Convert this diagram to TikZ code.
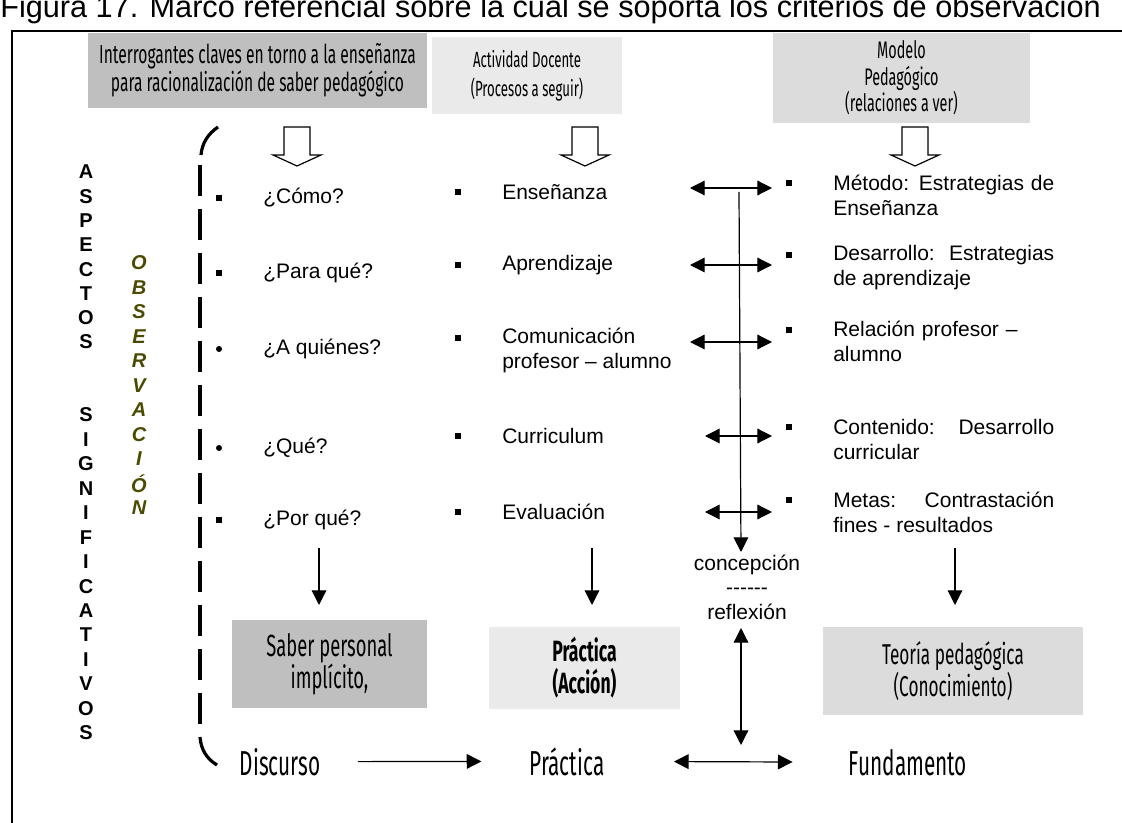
\documentclass[tikz,border=0pt]{standalone}
\usepackage{fontspec}
\setmainfont{Liberation Sans}
\newfontfamily\agency[FakeStretch=0.6]{Fira Sans}
\usepackage{xcolor}
\usetikzlibrary{arrows.meta,positioning}
\definecolor{boxdark}{HTML}{BFBFBF}
\definecolor{boxlight}{HTML}{EAEAEA}
\definecolor{boxmid}{HTML}{DCDCDC}
\definecolor{obsolive}{HTML}{4A4A00}
\hyphenpenalty=10000

\begin{document}
\begin{tikzpicture}[x=0.75pt, y=-0.75pt,
    txt/.style={font=\fontsize{15.75pt}{18.75pt}\selectfont, inner sep=0pt},
    head/.style={rectangle, inner sep=0pt, align=center, font=\agency\fontsize{19.5pt}{21pt}\selectfont},
    word/.style={inner sep=0pt, anchor=base, font=\agency\fontsize{26pt}{28pt}\selectfont},
    sq/.style={rectangle, fill=black, minimum size=4.5pt, inner sep=0pt},
    dot/.style={circle, fill=black, minimum size=4.5pt, inner sep=0pt},
    arr/.style={-{Triangle[length=11pt,width=11pt]}, line width=0.9pt},
    dbl/.style={{Triangle[length=11pt,width=11pt]}-{Triangle[length=11pt,width=11pt]}, line width=0.9pt},
    hollow/.style={draw, line width=0.9pt, fill=white},
    letter/.style={inner sep=0pt, font=\fontsize{15pt}{15pt}\selectfont\bfseries}]

  \useasboundingbox (0,0) rectangle (1122,823);

  % frame and title
  \node[anchor=base west, inner sep=0pt, font=\fontsize{23pt}{25pt}\selectfont] (title) at (0,18)
    {Figura 17. Marco referencial sobre la cual se soporta los criterios de observación};
  \draw[line width=1.4pt] (12,823) -- (12,31) -- (1122,31);

  % header boxes
  \node[head, fill=boxdark, minimum width=254.25pt, minimum height=56.25pt] (H1) at (257.5,70.5)
    {Interrogantes claves en torno a la enseñanza\\para racionalización de saber pedagógico};
  \node[head, fill=boxlight, minimum width=142.5pt, minimum height=57.75pt, font=\agency\fontsize{16.5pt}{22pt}\selectfont] (H2) at (527,76)
    {Actividad Docente\\(Procesos a seguir)};
  \node[head, fill=boxmid, minimum width=192.75pt, minimum height=67.5pt, font=\agency\fontsize{18pt}{20pt}\selectfont] (H3) at (901.5,78)
    {Modelo\\Pedagógico\\(relaciones a ver)};

  \foreach \ax in {297,585,915}
    \draw[hollow] (\ax-13,127) -- (\ax+13,127) -- (\ax+13,155) -- (\ax+24,155)
      -- (\ax,166) -- (\ax-24,155) -- (\ax-13,155) -- cycle;

  % side letters
  \foreach \l [count=\i] in {A,S,P,E,C,T,O,S}
    \node[letter] at (86,172+24.3*\i-24.3) {\l};
  \foreach \l [count=\i] in {S,I,G,N,I,F,I,C,A,T,I,V,O,S}
    \node[letter] at (86,415+24.45*\i-24.45) {\l};
  \foreach \l [count=\i] in {O,B,S,E,R,V,A,C,I,Ó,N}
    \node[letter, text=obsolive, font=\fontsize{15pt}{15pt}\selectfont\bfseries\itshape] at (139,263+24.5*\i-24.5) {\l};

  % bracket
  \draw[line width=2.4pt] (218,127) .. controls (208,134) and (202,143) .. (201,155);
  \draw[line width=2.4pt, dash pattern=on 23.25pt off 9.75pt] (200,165) -- (200,726);
  \draw[line width=2.4pt] (200,737) .. controls (201,750) and (207,759) .. (217,765);

  % questions
  \foreach \y/\b/\t [count=\i] in {198/sq/{¿Cómo?}, 273/sq/{¿Para qué?}, 349/dot/{¿A quiénes?},
      448/dot/{¿Qué?}, 520/sq/{¿Por qué?}} {
    \node[\b] at (219,\y) {};
    \node[txt, anchor=west] (Q\i) at (263,\y) {\t};
  }

  % teaching activity
  \foreach \y in {192,265,338,436,512}
    \node[sq] at (458,\y) {};
  \node[txt, anchor=west] (A1) at (502,192) {Enseñanza};
  \node[txt, anchor=west] (A2) at (502,265) {Aprendizaje};
  \node[txt, anchor=west, align=left] (A3) at (502,350.5) {Comunicación\\profesor – alumno};
  \node[txt, anchor=west] (A4) at (502,436) {Curriculum};
  \node[txt, anchor=west] (A5) at (502,512) {Evaluación};

  % pedagogical model
  \foreach \y in {183,255,330,427,500}
    \node[sq] at (789,\y) {};
  \node[txt, anchor=west, text width=165.75pt, align=justify] (M1) at (833,195) {Método: Estrategias de Enseñanza};
  \node[txt, anchor=west, text width=165.75pt, align=justify] (M2) at (833,267.5) {Desarrollo: Estrategias de aprendizaje};
  \node[txt, anchor=west, text width=165.75pt, align=left] (M3) at (833,341.5) {Relación profesor –\\alumno};
  \node[txt, anchor=west, text width=165.75pt, align=justify] (M4) at (833,439.5) {Contenido: Desarrollo curricular};
  \node[txt, anchor=west, text width=165.75pt, align=justify] (M5) at (833,512.5) {Metas: Contrastación fines - resultados};

  % relations
  \foreach \y/\xa [count=\i] in {188/690, 265/690, 342/690, 436/705, 512/705} {
    \coordinate (L\i) at (\xa,\y);
    \coordinate (R\i) at (772,\y);
    \draw[dbl] (L\i) -- (R\i);
  }
  \coordinate (V1) at (739,192);
  \coordinate (V2) at (741,552);
  \draw[arr] (V1) -- (V2);
  \node[txt, align=center, font=\fontsize{15.75pt}{18.4pt}\selectfont] (C) at (747,587) {concepción\\-{}-{}-{}-{}-{}-\\reflexión};

  % results
  \node[head, fill=boxdark, minimum width=146.25pt, minimum height=66pt, font=\agency\fontsize{23pt}{24pt}\selectfont] (K1) at (329.5,664)
    {Saber personal\\implícito,};
  \node[head, fill=boxlight, minimum width=143.25pt, minimum height=61.5pt, font=\agency\bfseries\fontsize{22pt}{24pt}\selectfont] (K2) at (584.5,668)
    {Práctica\\(Acción)};
  \node[head, fill=boxmid, minimum width=195pt, minimum height=66pt, font=\agency\fontsize{21.5pt}{24pt}\selectfont] (K3) at (953,671)
    {Teoría pedagógica\\(Conocimiento)};

  \foreach \ax/\k in {319/K1, 592/K2, 955/K3} {
    \coordinate (U\k) at (\ax,548);
    \draw[arr] (U\k) -- (\ax,605);
  }
  \coordinate (W1) at (741,628);
  \coordinate (W2) at (741,745);
  \draw[dbl] (W1) -- (W2);

  % bottom row
  \node[word] (D) at (280,775) {Discurso};
  \node[word] (P) at (567,775) {Práctica};
  \node[word] (F) at (908,775) {Fundamento};
  \draw[arr, shorten <=28pt, shorten >=36pt] (D.east) -- (P.west);
  \draw[dbl, shorten <=52pt, shorten >=42pt] (P.east) -- (F.west);
\end{tikzpicture}
\end{document}
